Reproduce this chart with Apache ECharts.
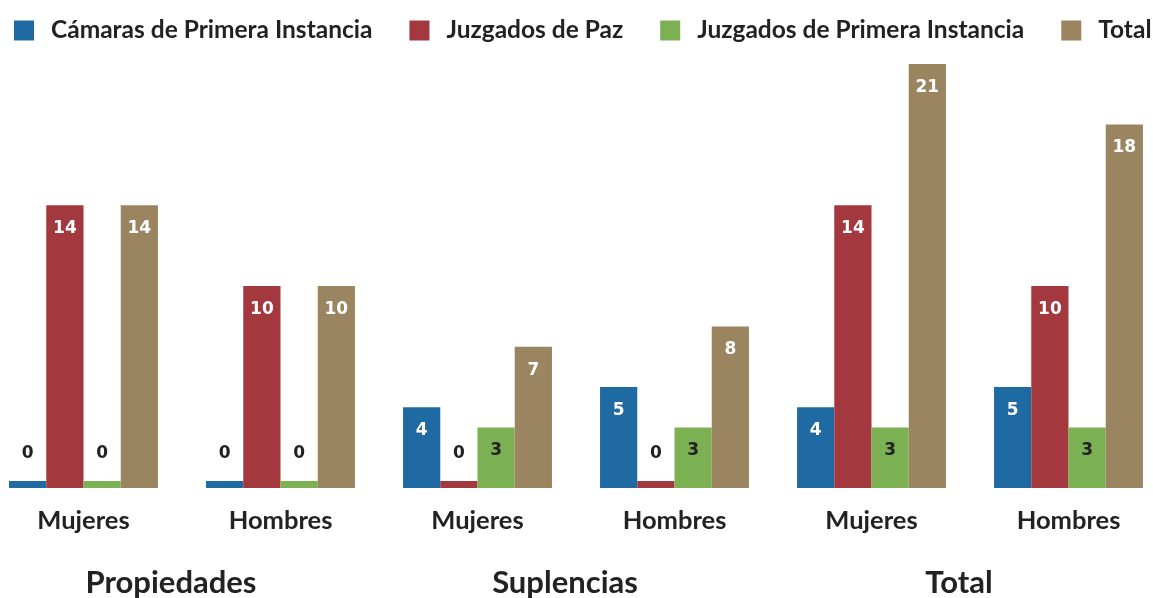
<!DOCTYPE html>
<html>
<head>
<meta charset="utf-8">
<script src="https://cdn.jsdelivr.net/npm/echarts@6/dist/echarts.min.js"></script>
<style>
html,body{margin:0;padding:0;background:#fff;}
#c{width:1153px;height:598px;}
</style>
</head>
<body>
<div id="c"></div>
<script>
const categories = ['Mujeres', 'Hombres', 'Mujeres', 'Hombres', 'Mujeres', 'Hombres'];
const groups = ['Propiedades', 'Suplencias', 'Total'];
const seriesNames = ['Cámaras de Primera Instancia', 'Juzgados de Paz', 'Juzgados de Primera Instancia', 'Total'];
const camaras = [0, 0, 4, 5, 4, 5];
const juzgadosPaz = [14, 10, 0, 0, 14, 10];
const juzgadosPrimera = [0, 0, 3, 3, 3, 3];
const total = [14, 10, 7, 8, 21, 18];
const colors = ['#1f6aa3', '#a3383f', '#7bb152', '#9b8560'];
const labelColors = ['#ffffff', '#ffffff', '#222222', '#ffffff'];

const values = [camaras, juzgadosPaz, juzgadosPrimera, total];
const FONT = 'Lato, "DejaVu Sans", sans-serif';

const series = values.map((arr, i) => ({
  name: seriesNames[i],
  type: 'bar',
  barGap: 0,
  barCategoryGap: '24.4%',
  barMinHeight: 7,
  itemStyle: { color: colors[i] },
  label: {
    show: true,
    position: 'insideTop',
    distance: 15,
    color: labelColors[i],
    fontFamily: '"DejaVu Sans", Verdana, sans-serif',
    fontWeight: 'bold',
    fontSize: 17
  },
  data: arr.map(v => v === 0 ? {
    value: v,
    label: { position: 'top', distance: 19, color: '#222222' }
  } : v)
}));

const chart = echarts.init(document.getElementById('c'));
chart.setOption({
  animation: false,
  color: colors,
  textStyle: { fontFamily: FONT },
  legend: {
    left: 9,
    top: 13,
    width: 1300,
    itemWidth: 20,
    itemHeight: 20,
    itemGap: 37,
    icon: 'rect',
    textStyle: { fontSize: 24.5, fontWeight: 'bold', color: '#222222', fontFamily: FONT, padding: [0, 0, 0, 12] },
    data: seriesNames
  },
  grid: { left: -15, right: -14, top: 64, bottom: 110, containLabel: false, outerBoundsMode: 'none' },
  xAxis: [
    {
      type: 'category',
      data: categories,
      axisLine: { show: false },
      axisTick: { show: false },
      axisLabel: { fontSize: 25.5, fontWeight: 'bold', color: '#222222', margin: 20, fontFamily: FONT }
    },
    {
      type: 'category',
      data: groups,
      position: 'bottom',
      offset: 60,
      axisLine: { show: false },
      axisTick: { show: false },
      axisLabel: { fontSize: 31, fontWeight: 'bold', color: '#222222', margin: 19, fontFamily: FONT, padding: [0, 22, 0, 0] }
    }
  ],
  yAxis: {
    type: 'value',
    min: 0,
    max: 21,
    show: false,
    splitLine: { show: false }
  },
  series: series
});
</script>
</body>
</html>
